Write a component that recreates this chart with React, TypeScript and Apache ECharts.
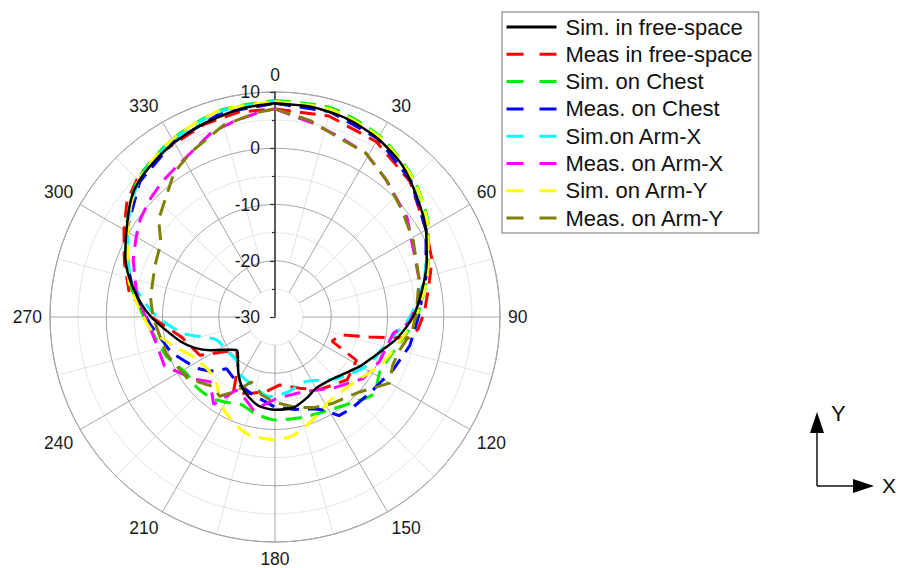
import React, { useEffect, useRef } from 'react';
import * as echarts from 'echarts';

// [angle (deg), gain (dB)]
const simFreeSpace: number[][] = [
  [0, 8], [10, 7.9], [20, 7.5], [30, 6.6], [40, 5.2], [50, 3], [60, 1], [70, -1.3], [80, -3.5], [90, -5.5],
  [100, -8], [107, -10], [114, -11.5], [120, -12.5], [130, -14.2], [140, -15.2], [150, -15.4], [158, -14.6],
  [168, -13.6], [180, -13.5], [190, -13.9], [198, -15], [205, -16.2], [212, -17.8], [218, -19.3], [224, -20.5],
  [229, -21], [233, -20.3], [237, -19.3], [243, -17], [249, -14.7], [255, -12.8], [263, -10.5], [270, -8],
  [276, -6], [285, -3.2], [292, -1.3], [300, 0.5], [309, 3], [315, 4.2], [323, 5.1], [330, 5.8], [338, 6.5],
  [345, 7], [352, 7.6], [360, 8],
];
const measFreeSpace: number[][] = [
  [0, 7], [15, 7], [30, 6], [45, 4], [60, 1], [70, -0.3], [78, -2], [88, -3.4], [95, -4.5], [99, -6],
  [102, -12.8], [105, -17.8], [113, -19], [118, -13.6], [131, -13], [148, -14.8], [161, -16.6], [176, -17.9],
  [187, -16.6], [200, -15.5], [209, -14.8], [217, -19], [229, -21], [235, -19.3], [243, -15], [258, -13],
  [270, -8], [279, -3.8], [290, -1.5], [300, 1], [308, 3.4], [316, 4.9], [325, 5.6], [340, 6.5], [350, 7], [360, 7],
];
const simChest: number[][] = [
  [0, 8.5], [15, 8.5], [30, 7.2], [45, 4.8], [60, 1.5], [75, -2], [90, -4.8], [101, -7.2], [110, -8.5],
  [117, -9], [128, -7.8], [138, -9.5], [148, -10.7], [165, -11.5], [180, -11.7], [192, -12.5], [201, -13.3],
  [210, -12.5], [218, -11.7], [228, -11.3], [238, -11.3], [250, -9.5], [265, -7.7], [272, -6.3], [285, -3],
  [300, 0.5], [315, 4.5], [330, 6.5], [345, 8], [360, 8.5],
];
const measChest: number[][] = [
  [0, 8], [15, 7.8], [30, 6.6], [45, 4.2], [60, 1], [75, -2.2], [90, -4.5], [102, -5.5], [114, -7],
  [129, -8.4], [140, -8.8], [147, -9.1], [153, -11.5], [158, -12.4], [168, -13.2], [180, -14], [196, -15.6],
  [210, -16.5], [223, -17.4], [230, -15], [237, -13.3], [251, -10.5], [267, -7.7], [280, -4.5], [290, -2],
  [300, 0.5], [315, 4], [330, 6], [345, 7.5], [360, 8],
];
const simArmX: number[][] = [
  [0, 8.3], [15, 8.2], [30, 7], [45, 4.6], [60, 1.3], [75, -2.5], [90, -6], [103, -9.6], [118, -11.5],
  [135, -14.5], [155, -17.3], [170, -16.5], [184, -15.8], [200, -17.4], [210, -18], [222, -19.7], [235, -19.5],
  [249, -18.8], [260, -13.4], [272, -8.3], [285, -3.5], [300, 0.3], [315, 4.2], [330, 6.3], [345, 7.8], [360, 8.3],
];
const measArmX: number[][] = [
  [0, 7], [11, 5.1], [19, 4.1], [29, 3.3], [39, 1.4], [53, -0.6], [63, -2.5], [75, -3.5], [84, -4.4],
  [92, -6], [98, -8.8], [113, -9.8], [125, -10.9], [141, -13.7], [159, -15.8], [179, -15.5], [193, -13],
  [200, -14.5], [208, -15.3], [215, -11], [225, -13.7], [232, -12], [246, -8.5], [257, -8.4], [270, -7],
  [280, -5], [292, -2.8], [300, -1.5], [306, -0.4], [313, 0.5], [320, 1.3], [327, 2], [334, 3], [341, 4.7],
  [348, 5.5], [356, 6.6], [360, 7],
];
const simArmY: number[][] = [
  [0, 8.3], [15, 8.2], [30, 7], [45, 4.7], [60, 1.4], [75, -2], [90, -5], [101, -7.4], [114, -9.3],
  [130, -11.8], [147, -12.2], [157, -11], [164, -9.9], [172, -8.6], [180, -8.2], [194, -8.7], [208, -11],
  [216, -13], [224, -14.7], [233, -14.8], [243, -14], [255, -11], [264, -7.9], [275, -5.5], [285, -3],
  [300, 0.3], [315, 4.3], [330, 6.5], [345, 8], [360, 8.3],
];
const measArmY: number[][] = [
  [0, 7], [10, 5.5], [19, 3.9], [29, 3.3], [39, 1.4], [50, -0.5], [61, -1.9], [75, -3.5], [88, -4.8],
  [96, -5.5], [105, -7.1], [112, -7.4], [120, -6.5], [126, -8.5], [132, -10], [147, -11.6], [157, -12.5],
  [167, -13.5], [181, -14.9], [190, -16], [200, -17.7], [208, -15], [215, -12.8], [222, -13.4], [235, -11],
  [251, -9.6], [270, -8.3], [279, -7.6], [293, -6.8], [303, -5.8], [310, -3], [317, -1.4], [325, 1.3],
  [333, 2.9], [345, 5.3], [355, 6.5], [360, 7],
];

const seriesNames = [
  'Sim. in free-space', 'Meas in free-space', 'Sim. on Chest', 'Meas. on Chest',
  'Sim.on Arm-X', 'Meas. on Arm-X', 'Sim. on Arm-Y', 'Meas. on Arm-Y',
];
const seriesColors = ['#000000', '#ff0000', '#00ee00', '#0000ff', '#00ffff', '#ff00ff', '#ffff00', '#808000'];
const seriesData = [simFreeSpace, measFreeSpace, simChest, measChest, simArmX, measArmX, simArmY, measArmY];
const seriesSmooth = [0.25, 0, 0.25, 0, 0.25, 0, 0.25, 0];

const radiusMin = -30;
const radiusMax = 10;

const FONT = 'Liberation Sans, Arial, sans-serif';
const CENTER = [275, 317];
const R = 225;
const gridSolid = '#a6a6a6';
const gridDotted = '#c8c8c8';

export default function App() {
  const ref = useRef<HTMLDivElement>(null);
  useEffect(() => {
    const chart = echarts.init(ref.current!, null, { renderer: 'svg' });
    const series: any[] = seriesNames.map((name, i) => ({
      name,
      type: 'line',
      coordinateSystem: 'polar',
      polarIndex: 0,
      symbol: 'none',
      showSymbol: false,
      smooth: seriesSmooth[i],
      z: i === 0 ? 10 : 3,
      data: seriesData[i].map(([a, d]) => [d, a]),
      itemStyle: { color: seriesColors[i] },
      lineStyle: {
        color: seriesColors[i],
        width: i === 0 ? 2.5 : 3,
        type: i === 0 ? 'solid' : [16, 9],
      },
    }));
    const option: any = {
      animation: false,
      backgroundColor: '#ffffff',
      textStyle: { fontFamily: FONT },
      polar: [
        { center: CENTER, radius: [0, R] },
        { center: CENTER, radius: [28, R] },
        { center: CENTER, radius: [56, R] },
      ],
      angleAxis: [
        {
          polarIndex: 0, type: 'value', min: 0, max: 360, interval: 30, startAngle: 90, clockwise: true, z: 1,
          axisLine: { show: true, lineStyle: { color: gridSolid, width: 1 } },
          axisTick: { show: false }, axisLabel: { show: false }, splitLine: { show: false },
        },
        {
          polarIndex: 1, type: 'value', min: 0, max: 360, interval: 30, startAngle: 90, clockwise: true, z: 1,
          axisLine: { show: false }, axisTick: { show: false },
          axisLabel: {
            show: true, margin: 8, fontSize: 17.5, color: '#1a1a1a', fontFamily: FONT,
            formatter: (v: number) => (v >= 360 ? '' : String(v)),
          },
          splitLine: { show: true, lineStyle: { color: gridSolid, width: 1 } },
        },
        {
          polarIndex: 2, type: 'value', min: 0, max: 360, interval: 30, startAngle: 90, clockwise: true, z: 0,
          axisLine: { show: false }, axisTick: { show: false }, axisLabel: { show: false },
          splitLine: { show: false },
          minorTick: { show: false, splitNumber: 2 },
          minorSplitLine: { show: true, lineStyle: { color: gridDotted, width: 1, type: 'dotted' } },
        },
      ],
      radiusAxis: [
        {
          polarIndex: 0, type: 'value', min: radiusMin, max: radiusMax, interval: 10, z: 2,
          axisLine: { show: true, lineStyle: { color: '#333333', width: 1.5 } },
          axisTick: { show: true, length: 5, lineStyle: { color: '#333333', width: 1.2 } },
          minorTick: { show: true, splitNumber: 2, length: 3, lineStyle: { color: '#333333', width: 1.2 } },
          axisLabel: {
            show: true, margin: 15, fontSize: 17.5, color: '#1a1a1a', fontFamily: FONT,
            align: 'right', verticalAlign: 'middle',
          },
          splitLine: { show: true, lineStyle: { color: gridSolid, width: 1 } },
        },
        {
          polarIndex: 1, type: 'value', min: -25, max: radiusMax, interval: 10, z: 0,
          axisLine: { show: false }, axisTick: { show: false }, axisLabel: { show: false },
          splitLine: { show: true, lineStyle: { color: gridDotted, width: 1, type: 'dotted' } },
        },
        {
          polarIndex: 2, type: 'value', min: radiusMin, max: radiusMax, z: 0,
          axisLine: { show: false }, axisTick: { show: false }, axisLabel: { show: false },
          splitLine: { show: false },
        },
      ],
      legend: {
        orient: 'vertical',
        left: 502,
        top: 12,
        padding: [4, 6, 4, 3],
        borderColor: '#a0a0a0',
        borderWidth: 1.5,
        itemWidth: 50,
        itemHeight: 14,
        itemGap: 5.3,
        selectedMode: false,
        itemStyle: { opacity: 0, borderWidth: 0 },
        textStyle: { fontSize: 22, fontFamily: FONT, color: '#111111', lineHeight: 22, padding: [0, 0, 0, 4] },
        data: seriesNames.map((name, i) => ({
          name,
          itemStyle: { opacity: 0, borderWidth: 0 },
          lineStyle: { width: 3, type: i === 0 ? 'solid' : [17, 16], opacity: 1 },
        })),
      },
      graphic: [
        { type: 'line', shape: { x1: 817, y1: 486, x2: 817, y2: 428 }, style: { stroke: '#111', lineWidth: 1.5 } },
        { type: 'polygon', shape: { points: [[817, 412], [810, 433], [824, 433]] }, style: { fill: '#000' } },
        { type: 'line', shape: { x1: 817, y1: 486, x2: 858, y2: 486 }, style: { stroke: '#111', lineWidth: 1.5 } },
        { type: 'polygon', shape: { points: [[874, 486], [853, 479], [853, 493]] }, style: { fill: '#000' } },
        { type: 'text', x: 831, y: 402, style: { text: 'Y', fontSize: 22, fontFamily: FONT, fill: '#111' } },
        { type: 'text', x: 882, y: 475, style: { text: 'X', fontSize: 21, fontFamily: FONT, fill: '#111' } },
      ],
      series,
    };
    chart.setOption(option);
    return () => chart.dispose();
  }, []);
  return <div ref={ref} style={{ position: 'absolute', left: 0, top: 0, width: 898, height: 568 }} />;
}
